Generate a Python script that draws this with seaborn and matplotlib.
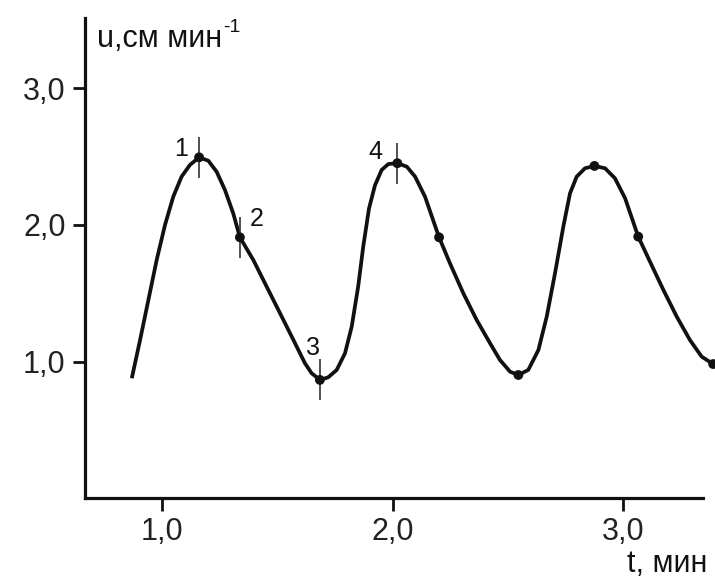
import matplotlib
matplotlib.use("Agg")
import matplotlib.pyplot as plt
import seaborn as sns
import pandas as pd

# curve (t, min ; u, cm/min)
t_curve = [0.869, 0.905, 0.941, 0.977, 1.013, 1.049, 1.085, 1.121, 1.161, 1.201,
           1.237, 1.273, 1.309, 1.338, 1.396, 1.454, 1.512, 1.570, 1.620, 1.649,
           1.685, 1.721, 1.758, 1.794, 1.823, 1.851, 1.873, 1.898, 1.924, 1.953,
           1.982, 2.021, 2.062, 2.098, 2.141, 2.202, 2.249, 2.307, 2.365, 2.423,
           2.466, 2.510, 2.546, 2.589, 2.633, 2.669, 2.705, 2.741, 2.770, 2.799,
           2.835, 2.876, 2.922, 2.965, 3.009, 3.066, 3.117, 3.175, 3.233, 3.290,
           3.341, 3.391]
u_curve = [0.881, 1.161, 1.453, 1.745, 2.000, 2.207, 2.353, 2.438, 2.494, 2.469,
           2.389, 2.256, 2.085, 1.910, 1.745, 1.550, 1.356, 1.161, 0.991, 0.918,
           0.869, 0.888, 0.942, 1.064, 1.258, 1.550, 1.842, 2.120, 2.290, 2.402,
           2.445, 2.451, 2.426, 2.353, 2.207, 1.910, 1.721, 1.502, 1.307, 1.137,
           1.015, 0.929, 0.905, 0.942, 1.088, 1.331, 1.648, 1.988, 2.231, 2.353,
           2.414, 2.431, 2.414, 2.341, 2.195, 1.915, 1.732, 1.526, 1.331, 1.161,
           1.039, 0.985]

# marked points
t_pts = [1.161, 1.338, 1.685, 2.021, 2.202, 2.546, 2.876, 3.066, 3.391]
u_pts = [2.494, 1.910, 0.869, 2.451, 1.910, 0.905, 2.431, 1.915, 0.985]

# numbered points with error bars
t_num = [1.161, 1.338, 1.685, 2.021]
u_num = [2.494, 1.910, 0.869, 2.451]
u_err = [0.15, 0.15, 0.15, 0.15]
num_labels = ["1", "2", "3", "4"]

x_ticks = [1.0, 2.0, 3.0]
x_ticklabels = ["1,0", "2,0", "3,0"]
y_ticks = [1.0, 2.0, 3.0]
y_ticklabels = ["1,0", "2,0", "3,0"]

sns.set_style("white")
plt.rcParams["font.family"] = ["Liberation Sans", "DejaVu Sans"]

ink = "#111111"
fig = plt.figure(figsize=(7.15, 5.8), dpi=100)
ax = fig.add_axes([85 / 715, 82 / 580, 630 / 715, 480 / 580])

df_curve = pd.DataFrame({"t": t_curve, "u": u_curve})
sns.lineplot(data=df_curve, x="t", y="u", sort=False, estimator=None, ax=ax,
             color=ink, linewidth=2.7, clip_on=False,
             solid_joinstyle="round", solid_capstyle="butt")
df_pts = pd.DataFrame({"t": t_pts, "u": u_pts})
sns.scatterplot(data=df_pts, x="t", y="u", ax=ax, color=ink, s=50,
                edgecolor="none", zorder=4, clip_on=False)
ax.errorbar(t_num, u_num, yerr=u_err, fmt="none", ecolor="#333333",
            elinewidth=1.2, capsize=0, zorder=3)

offsets = [(-13, 6), (12, 13), (-5, 23), (-16, 8)]
for t, u, lab, (dx, dy) in zip(t_num, u_num, num_labels, offsets):
    ax.annotate(lab, (t, u), xytext=(dx, dy), textcoords="offset points",
                ha="center", va="center", fontsize=18, color=ink)

ax.set_xlim(0.666, 3.399)
ax.set_ylim(0.007, 3.511)
ax.set_xticks(x_ticks)
ax.set_xticklabels(x_ticklabels)
ax.set_yticks(y_ticks)
ax.set_yticklabels(y_ticklabels)
ax.set_xlabel("")
ax.set_ylabel("")
for side in ["top", "right"]:
    ax.spines[side].set_visible(False)
for side in ["left", "bottom"]:
    ax.spines[side].set_linewidth(2.3)
    ax.spines[side].set_color(ink)
ax.spines["bottom"].set_bounds(0.666, 3.345)
ax.tick_params(axis="both", direction="out", length=9, width=2.0, color=ink,
               labelsize=22, labelcolor="#222222", pad=5)
ax.tick_params(axis="x", bottom=True, left=False)
ax.tick_params(axis="y", left=True, bottom=False)

ylab = ax.text(0.718, 3.30, "u,см мин", fontsize=22, color=ink,
               ha="left", va="baseline")
ax.annotate("-1", xy=(1.0, 1.0), xycoords=ylab, xytext=(1, -9),
            textcoords="offset points", fontsize=14, color=ink,
            ha="left", va="bottom")
fig.text(707 / 715, 8 / 580, "t, мин", fontsize=22, color=ink,
         ha="right", va="baseline")

fig.savefig("out.png", dpi=100)
